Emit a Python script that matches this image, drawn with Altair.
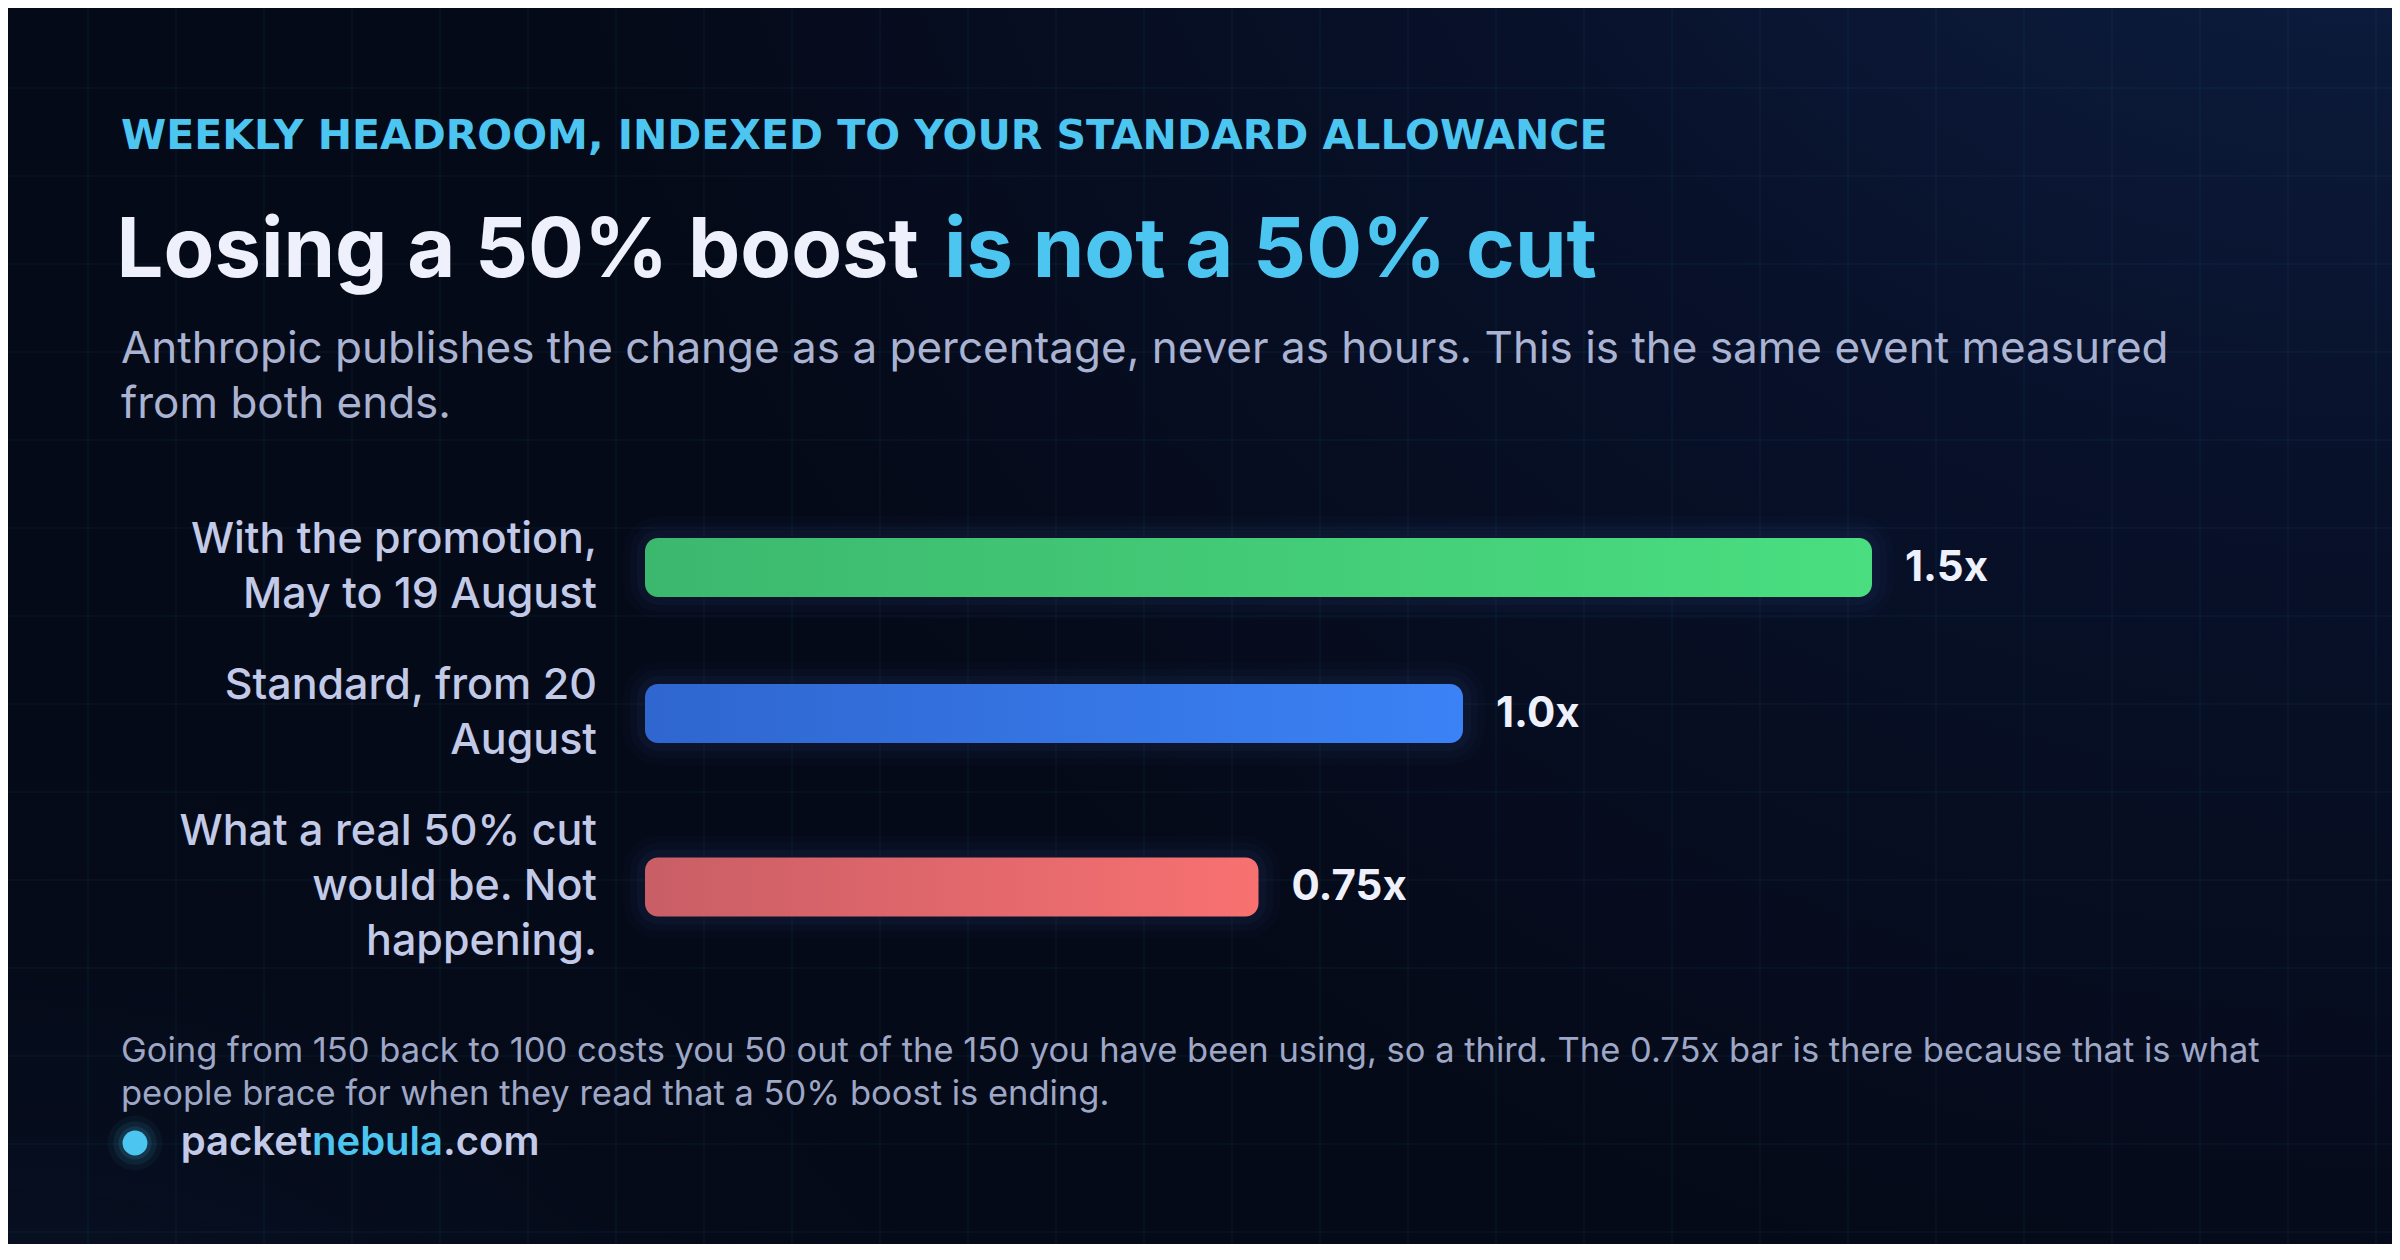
import altair as alt

# ---------------- data ----------------
row_labels = [
    "With the promotion,\nMay to 19 August",
    "Standard, from 20\nAugust",
    "What a real 50% cut\nwould be. Not\nhappening.",
]
multipliers = [1.5, 1.0, 0.75]
value_labels = ["1.5x", "1.0x", "0.75x"]

eyebrow = "WEEKLY HEADROOM, INDEXED TO YOUR STANDARD ALLOWANCE"
title_lead = "Losing a 50% boost"
title_accent = "is not a 50% cut"
subtitle = ("Anthropic publishes the change as a percentage, never as hours. This is the same event measured\n"
            "from both ends.")
footnote = ("Going from 150 back to 100 costs you 50 out of the 150 you have been using, so a third. "
            "The 0.75x bar is there because that is what\n"
            "people brace for when they read that a 50% boost is ending.")
brand_parts = ["packet", "nebula", ".com"]

# ---------------- styles ----------------
bar_gradients = [("#3cb86e", "#4ade80"), ("#2f66cf", "#3b82f6"), ("#c95e66", "#f87171")]
CYAN = "#4cc6f0"
WHITE = "#eef1fb"
LAV = "#c2cae8"
SUB = "#aab3d2"
FOOT = "#9ea7c6"
FONT = "Inter"

W, H = 2384, 1236           # whole canvas (page has an 8px margin)
OFF = 8

# x scale: multiplier units, 0 at the bar start, 818 px per 1.0x
PX_PER_X = 818
X_ZERO = 645 - OFF
x_scale = alt.Scale(domain=[-X_ZERO / PX_PER_X, (W - X_ZERO) / PX_PER_X], nice=False, zero=False)

# y scale: label-line units (55 px per line)
LINE_H = 55
GAP = 36 / LINE_H
BAR = 59 / LINE_H
TOP = 512.5 - OFF
y_scale = alt.Scale(domain=[-TOP / LINE_H, (H - TOP) / LINE_H], nice=False, zero=False, reverse=True)

one = alt.Data(values=[{}])


def full_rect(fill):
    return alt.Chart(one).mark_rect(fill=fill).encode(
        x=alt.value(0), x2=alt.value("width"), y=alt.value(0), y2=alt.value("height"))


bg = full_rect({
    "gradient": "radial", "x1": 1, "y1": 0, "r1": 0, "x2": 1, "y2": 0, "r2": 0.8,
    "stops": [{"offset": 0, "color": "#10264f"}, {"offset": 0.55, "color": "#08112a"},
              {"offset": 1, "color": "#050a18"}]})
bg2 = full_rect({
    "gradient": "radial", "x1": 0, "y1": 1, "r1": 0, "x2": 0, "y2": 1, "r2": 0.45,
    "stops": [{"offset": 0, "color": "rgba(22,62,110,0.45)"}, {"offset": 1, "color": "rgba(5,10,24,0)"}]})

grid_style = dict(stroke="#38bdf8", strokeOpacity=0.085, strokeWidth=1)
vgrid = alt.Chart(alt.sequence(88, 2400, 88, as_="gx")).mark_rule(**grid_style).encode(
    x=alt.X("gx:Q", scale=alt.Scale(domain=[OFF, W + OFF], nice=False, zero=False), axis=None),
    y=alt.value(0), y2=alt.value("height"))
hgrid = alt.Chart(alt.sequence(88, 1260, 88, as_="gy")).mark_rule(**grid_style).encode(
    y=alt.Y("gy:Q", scale=alt.Scale(domain=[OFF, H + OFF], nice=False, zero=False, reverse=True), axis=None),
    x=alt.value(0), x2=alt.value("width"))

rows = alt.Data(values=[{"label": l, "mult": m, "vlabel": v}
                        for l, m, v in zip(row_labels, multipliers, value_labels)])

base = alt.Chart(rows).transform_calculate(
    nlines="split(datum.label, '\\n').length"
).transform_window(
    window=[alt.WindowFieldDef(op="sum", field="nlines", **{"as": "cum"}),
            alt.WindowFieldDef(op="row_number", **{"as": "idx"})],
    frame=[None, 0]
).transform_calculate(
    yc=f"datum.cum - datum.nlines / 2 + (datum.idx - 1) * {GAP}",
    x0="0",
).transform_calculate(
    ytop=f"datum.yc - {BAR / 2}",
    ybot=f"datum.yc + {BAR / 2}",
    ylab="datum.yc - (datum.nlines - 1) / 2",
)

bar_enc = dict(
    x=alt.X("mult:Q", scale=x_scale, axis=None),
    x2="x0:Q",
    y=alt.Y("ytop:Q", scale=y_scale, axis=None),
    y2="ybot:Q",
)

glows = [
    base.mark_rect(cornerRadius=14, fillOpacity=0, stroke="#4d7cc4", strokeWidth=sw, strokeOpacity=op).encode(**bar_enc)
    for sw, op in [(44, 0.025), (30, 0.035), (16, 0.05)]
]

bars = []
for i, (c0, c1) in enumerate(bar_gradients):
    grad = {"gradient": "linear", "x1": 0, "y1": 0, "x2": 1, "y2": 0,
            "stops": [{"offset": 0, "color": c0}, {"offset": 1, "color": c1}]}
    bars.append(base.transform_filter(f"datum.idx == {i + 1}").mark_rect(
        cornerRadius=13, fill=grad).encode(**bar_enc))

values_txt = base.mark_text(align="left", baseline="middle", dx=33, font=FONT, fontSize=42,
                            fontWeight=700, color=WHITE).encode(
    x=alt.X("mult:Q", scale=x_scale, axis=None),
    y=alt.Y("yc:Q", scale=y_scale, axis=None),
    text="vlabel:N")

labels_txt = base.mark_text(align="right", baseline="middle", dx=-48, font=FONT, fontSize=43,
                            fontWeight=500, color=LAV, lineBreak="\n", lineHeight=55).encode(
    x=alt.X("x0:Q", scale=x_scale, axis=None),
    y=alt.Y("ylab:Q", scale=y_scale, axis=None),
    text="label:N")


def text_at(txt, x, y, **kw):
    params = dict(align="left", baseline="alphabetic", font=FONT, lineBreak="\n")
    params.update(kw)
    return alt.Chart(alt.Data(values=[{"t": txt}])).mark_text(**params).encode(
        x=alt.value(x), y=alt.value(y), text="t:N")


t_eyebrow = text_at(eyebrow, 113, 141, font="DejaVu Sans", fontSize=41, fontWeight=700, color=CYAN)
t_lead = text_at(title_lead, 911, 269, align="right", fontSize=83, fontWeight=700, color=WHITE)
t_accent = text_at(title_accent, 936, 269, fontSize=83, fontWeight=700, color=CYAN)
t_sub = text_at(subtitle, 113, 355, fontSize=44, fontWeight=400, color=SUB, lineHeight=55)
t_foot = text_at(footnote, 113, 1054, fontSize=34.5, fontWeight=400, color=FOOT, lineHeight=43)

dot_glow = [alt.Chart(one).mark_circle(color=CYAN, opacity=op, size=s).encode(
    x=alt.value(127), y=alt.value(1135)) for s, op in [(3000, 0.05), (1900, 0.08), (1100, 0.12)]]
dot = alt.Chart(one).mark_circle(color=CYAN, opacity=1, size=620).encode(x=alt.value(127), y=alt.value(1135))

b1 = text_at(brand_parts[0], 304, 1147, align="right", fontSize=40, fontWeight=600, color=LAV)
b2 = text_at(brand_parts[1], 304, 1147, fontSize=40, fontWeight=600, color=CYAN)
b3 = text_at(brand_parts[2], 435, 1147, fontSize=40, fontWeight=600, color=LAV)

chart = alt.layer(
    bg, bg2, vgrid, hgrid, *glows, *bars, values_txt, labels_txt,
    t_eyebrow, t_lead, t_accent, t_sub, t_foot, *dot_glow, dot, b1, b2, b3
).resolve_scale(
    x="independent", y="independent"
).properties(
    width=W, height=H, padding=0, background="#050a18",
    autosize=alt.AutoSizeParams(type="none"),
).configure_view(stroke=None)

chart.save("out.html", embed_options={"renderer": "svg", "actions": False})
